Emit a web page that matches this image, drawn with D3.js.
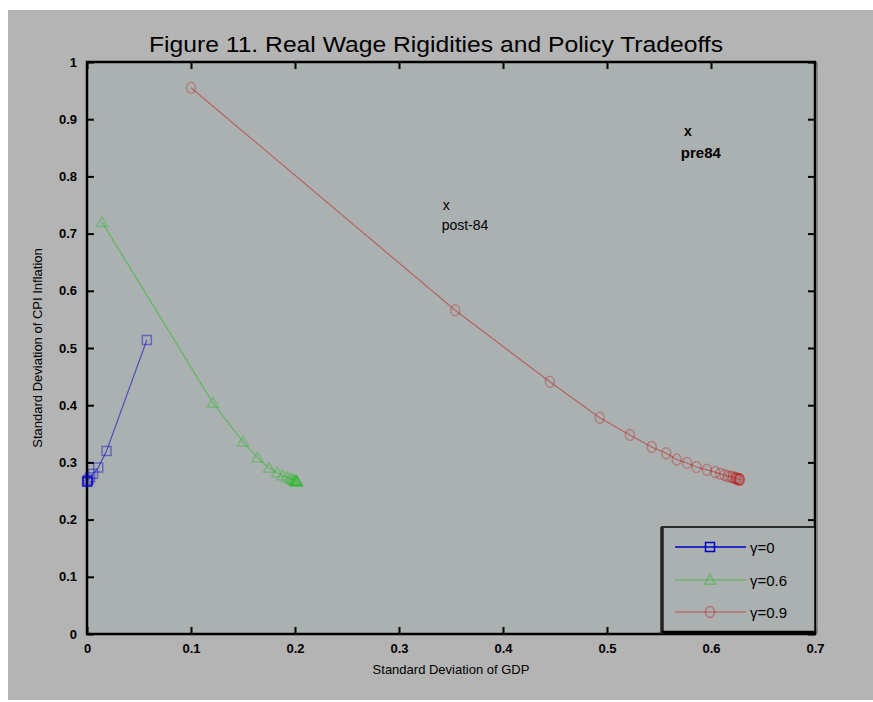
<!DOCTYPE html>
<html>
<head>
<meta charset="utf-8">
<script src="https://cdn.jsdelivr.net/npm/d3@7"></script>
<style>
  body { margin: 0; background: #fff; }
  text { font-family: "Liberation Sans", Arial, sans-serif; fill: #000; }
</style>
</head>
<body>
<script>
// data (std dev of GDP, std dev of CPI inflation)
var gdp_g0   = [0.0575, 0.0188, 0.0108, 0.0058, 0.0030, 0.0015, 0.0008, 0.0003, 0.0002, 0.0001];
var infl_g0  = [0.514, 0.320, 0.291, 0.280, 0.274, 0.270, 0.268, 0.267, 0.2665, 0.266];

var gdp_g6   = [0.0144, 0.121, 0.150, 0.164, 0.175, 0.183, 0.188, 0.192, 0.195, 0.197, 0.199, 0.200, 0.201, 0.2015, 0.202];
var infl_g6  = [0.720, 0.404, 0.336, 0.308, 0.290, 0.282, 0.277, 0.274, 0.272, 0.270, 0.269, 0.268, 0.267, 0.2665, 0.266];

var gdp_g9   = [0.100, 0.354, 0.445, 0.493, 0.522, 0.543, 0.557, 0.567, 0.577, 0.586, 0.596, 0.604,
                0.609, 0.613, 0.616, 0.619, 0.621, 0.623, 0.624, 0.625, 0.626, 0.627, 0.6275, 0.628];
var infl_g9  = [0.955, 0.566, 0.441, 0.378, 0.348, 0.327, 0.316, 0.305, 0.299, 0.292, 0.287, 0.283,
                0.280, 0.278, 0.276, 0.275, 0.274, 0.273, 0.272, 0.2715, 0.271, 0.2705, 0.270, 0.270];

var legend_labels = ["γ=0", "γ=0.6", "γ=0.9"];
var x_ticks = [0, 0.1, 0.2, 0.3, 0.4, 0.5, 0.6, 0.7];
var y_ticks = [0, 0.1, 0.2, 0.3, 0.4, 0.5, 0.6, 0.7, 0.8, 0.9, 1];

var W = 873, H = 702;
var plot = {left: 87, top: 62, right: 815, bottom: 634};

var series = [
  {name: legend_labels[0], gdp: gdp_g0, infl: infl_g0, color: "#0000c8", op: 0.4,  legOp: 1,   marker: "square"},
  {name: legend_labels[1], gdp: gdp_g6, infl: infl_g6, color: "#00c000", op: 0.28, legOp: 0.35, marker: "triangle"},
  {name: legend_labels[2], gdp: gdp_g9, infl: infl_g9, color: "#c00000", op: 0.28, legOp: 0.35, marker: "circle"}
];

var svg = d3.select("body").append("svg")
    .attr("width", W).attr("height", H);

// figure background
svg.append("rect").attr("x", 8).attr("y", 10).attr("width", W - 8).attr("height", H - 12)
    .attr("fill", "#b4b4b4");
svg.append("rect").attr("x", plot.left).attr("y", plot.top)
    .attr("width", plot.right - plot.left).attr("height", plot.bottom - plot.top)
    .attr("fill", "#abb0b0");

var x = d3.scaleLinear().domain([0, 0.7]).range([plot.left, plot.right]);
var y = d3.scaleLinear().domain([0, 1]).range([plot.bottom, plot.top]);

var tickFmt = function(d) { return d === 0 ? "0" : (d === 1 ? "1" : d3.format(".1f")(d)); };

// axes, ticks inward
svg.append("g").attr("transform", "translate(0," + plot.bottom + ")")
    .call(d3.axisBottom(x).tickValues(x_ticks).tickSize(-7).tickPadding(10).tickFormat(tickFmt));
svg.append("g").attr("transform", "translate(" + plot.left + ",0)")
    .call(d3.axisLeft(y).tickValues(y_ticks).tickSize(-7).tickPadding(10).tickFormat(tickFmt));
svg.append("g").attr("transform", "translate(0," + plot.top + ")")
    .call(d3.axisTop(x).tickValues(x_ticks).tickSize(-7).tickFormat(""));
svg.append("g").attr("transform", "translate(" + plot.right + ",0)")
    .call(d3.axisRight(y).tickValues(y_ticks).tickSize(-7).tickFormat(""));

svg.selectAll(".domain").remove();
svg.selectAll(".tick line").attr("stroke", "#000").attr("stroke-width", 2);
svg.selectAll(".tick text").style("font-size", "13px").style("font-weight", "bold")
    .attr("font-family", "Liberation Sans Narrow, Liberation Sans, Arial, sans-serif");

// axis box
svg.append("rect").attr("x", plot.left).attr("y", plot.top)
    .attr("width", plot.right - plot.left).attr("height", plot.bottom - plot.top)
    .attr("fill", "none").attr("stroke", "#000").attr("stroke-width", 2.5);
svg.append("line").attr("x1", plot.right + 2).attr("x2", plot.right + 2)
    .attr("y1", plot.top).attr("y2", plot.bottom).attr("stroke", "#777").attr("stroke-width", 1.5);

function drawMarker(g, type, cx, cy, color, op) {
  if (type === "square") {
    g.append("rect").attr("x", cx - 4.5).attr("y", cy - 4.5).attr("width", 9).attr("height", 9)
      .attr("fill", "none").attr("stroke", color).attr("stroke-opacity", op).attr("stroke-width", 1.5);
  } else if (type === "triangle") {
    g.append("path").attr("d", d3.symbol().type(d3.symbolTriangle).size(55)())
      .attr("transform", "translate(" + cx + "," + (cy + 1) + ")")
      .attr("fill", "none").attr("stroke", color).attr("stroke-opacity", op).attr("stroke-width", 1.5);
  } else {
    g.append("ellipse").attr("cx", cx).attr("cy", cy).attr("rx", 4.5).attr("ry", 5.5)
      .attr("fill", "none").attr("stroke", color).attr("stroke-opacity", op).attr("stroke-width", 1.5);
  }
}

var line = d3.line().x(function(d) { return x(d[0]); }).y(function(d) { return y(d[1]); });

series.forEach(function(s) {
  var pts = s.gdp.map(function(v, i) { return [v, s.infl[i]]; });
  var g = svg.append("g");
  g.append("path").datum(pts).attr("d", line)
    .attr("fill", "none").attr("stroke", s.color).attr("stroke-opacity", s.op + 0.15).attr("stroke-width", 1.2);
  pts.forEach(function(p) { drawMarker(g, s.marker, x(p[0]), y(p[1]), s.color, s.op); });
});

// title and labels
svg.append("text").attr("x", 436).attr("y", 52).attr("text-anchor", "middle")
    .style("font-size", "22px").attr("textLength", 574).attr("lengthAdjust", "spacingAndGlyphs")
    .text("Figure 11. Real Wage Rigidities and Policy Tradeoffs");
svg.append("text").attr("x", 451).attr("y", 674).attr("text-anchor", "middle")
    .style("font-size", "13px").text("Standard  Deviation of GDP");
svg.append("text").attr("transform", "translate(42,348) rotate(-90)").attr("text-anchor", "middle")
    .style("font-size", "13px").text("Standard Deviation of CPI Inflation");

// annotations
var notes = [
  {t: "x", gx: 0.574, gy: 0.870, size: 14, w: "bold"},
  {t: "pre84", gx: 0.571, gy: 0.832, size: 15, w: "bold"},
  {t: "x", gx: 0.342, gy: 0.742, size: 14, w: "normal"},
  {t: "post-84", gx: 0.341, gy: 0.707, size: 14, w: "normal"}
];
notes.forEach(function(n) {
  svg.append("text").attr("x", x(n.gx)).attr("y", y(n.gy)).style("font-size", n.size + "px")
    .style("font-weight", n.w).text(n.t);
});

// legend
var lg = svg.append("g");
lg.append("rect").attr("x", 662).attr("y", 527).attr("width", 153).attr("height", 106)
    .attr("fill", "#abb0b0").attr("stroke", "#000").attr("stroke-width", 1.5);
lg.append("line").attr("x1", 662).attr("x2", 662).attr("y1", 527).attr("y2", 634)
    .attr("stroke", "#222").attr("stroke-width", 3.5);
lg.append("line").attr("x1", 662).attr("x2", 815).attr("y1", 632).attr("y2", 632)
    .attr("stroke", "#000").attr("stroke-width", 2.5);
var legY = [547, 580, 612];
series.forEach(function(s, i) {
  lg.append("line").attr("x1", 675).attr("x2", 746).attr("y1", legY[i]).attr("y2", legY[i])
    .attr("stroke", s.color).attr("stroke-opacity", s.legOp).attr("stroke-width", 1.5);
  drawMarker(lg, s.marker, 710, legY[i], s.color, s.legOp);
  lg.append("text").attr("x", 750).attr("y", legY[i] + 6).style("font-size", "15px").text(s.name);
});
</script>
</body>
</html>
